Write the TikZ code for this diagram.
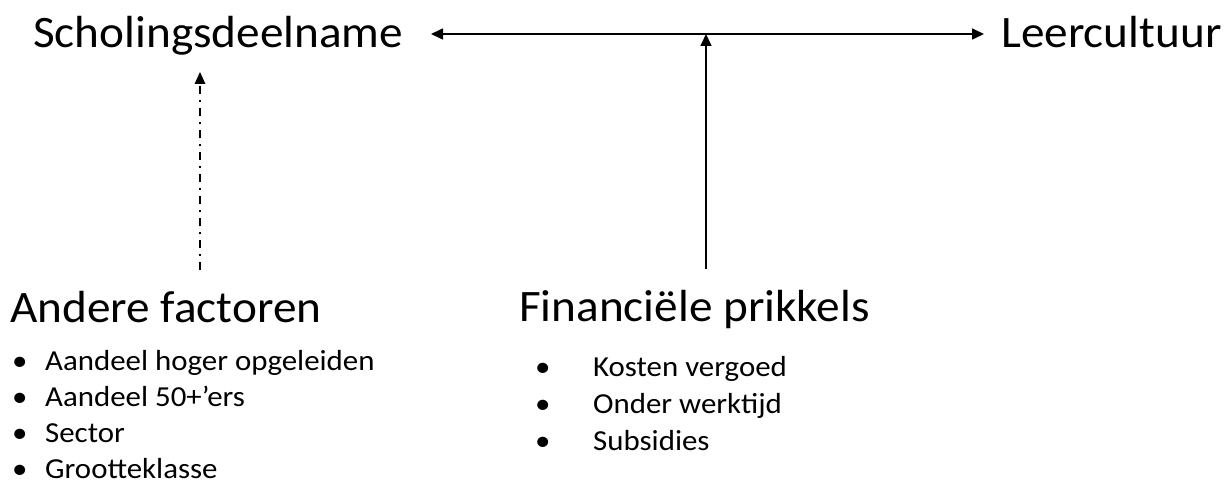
\documentclass[tikz,border=0pt]{standalone}
\usepackage{fontspec}
\setmainfont{Carlito}
\newfontfamily\titlefont[FakeStretch=1.05]{Carlito}
\newfontfamily\itemfont[FakeStretch=1.065]{Carlito}
\usetikzlibrary{arrows.meta}
\tikzset{
  big/.style={inner sep=0pt, anchor=base west, font=\titlefont\fontsize{45}{52}\selectfont},
  item/.style={inner sep=0pt, anchor=base west, font=\itemfont\fontsize{29}{34}\selectfont},
  conn/.style={line width=1.6pt, -{Triangle[length=12pt,width=11pt]}},
  dashdot/.style={line width=1.8pt, dash pattern=on 8pt off 6pt on 2pt off 6pt}
}
\begin{document}
\begin{tikzpicture}[x=1pt,y=-1pt]
\useasboundingbox (0,0) rectangle (1230,484);
\node[big] (sch) at (33,48) {Scholingsdeelname};
\node[big] (leer) at (1001,48) {Leercultuur};
\node[big] (and) at (10,322) {Andere factoren};
\node[big] (fin) at (519,321) {Financiële prikkels};
\node[item] (a1) at (12,370) {\makebox[33pt][l]{•}Aandeel hoger opgeleiden};
\node[item] (a2) at (12,406) {\makebox[33pt][l]{•}Aandeel 50+’ers};
\node[item] (a3) at (12,442) {\makebox[33pt][l]{•}Sector};
\node[item] (a4) at (12,478) {\makebox[33pt][l]{•}Grootteklasse};
\node[item] (f1) at (535,376) {\makebox[58pt][l]{•}Kosten vergoed};
\node[item] (f2) at (535,413) {\makebox[58pt][l]{•}Onder werktijd};
\node[item] (f3) at (535,450) {\makebox[58pt][l]{•}Subsidies};
\coordinate (hl) at (431,34);
\coordinate (hr) at (984,34);
\coordinate (fb) at (706,269);
\coordinate (db) at (200,270);
\coordinate (dt) at (200,72);
\draw[line width=1.6pt, {Triangle[length=12pt,width=11pt]}-{Triangle[length=12pt,width=11pt]}] (hl) -- (hr);
\draw[conn] (fb) -- (fb |- hl);
\draw[dashdot] (db) -- ([yshift=-12pt]dt);
\fill ([xshift=-5.5pt,yshift=-12pt]dt) -- (dt) -- ([xshift=5.5pt,yshift=-12pt]dt) -- cycle;
\end{tikzpicture}
\end{document}
